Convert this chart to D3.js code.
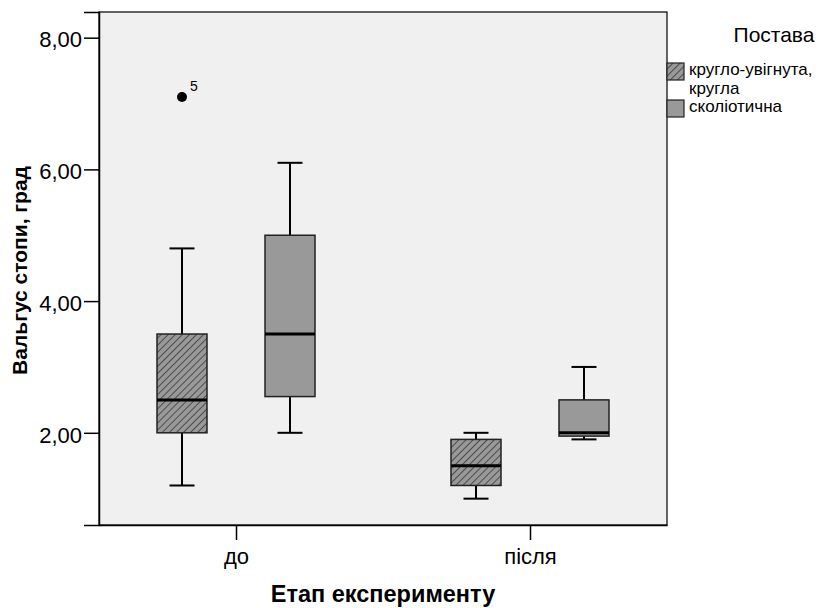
<!DOCTYPE html>
<html>
<head>
<meta charset="utf-8">
<script src="https://cdn.jsdelivr.net/npm/d3@7"></script>
<style>
  html, body { margin: 0; padding: 0; background: #fff; }
  svg { display: block; font-family: "Liberation Sans", Arial, sans-serif; }
</style>
</head>
<body>
<svg id="chart" width="829" height="608"></svg>
<script>
// ---- data ----
const stages = ["до", "після"];
const groups = ["кругло-увігнута, кругла", "сколіотична"];
// [whiskerLow, q1, median, q3, whiskerHigh] per stage
const roundConcave = [[1.2, 2.0, 2.5, 3.5, 4.8], [1.0, 1.2, 1.5, 1.9, 2.0]];
const scoliotic    = [[2.0, 2.55, 3.5, 5.0, 6.1], [1.9, 1.95, 2.0, 2.5, 3.0]];
const outliers = [{ stage: "до", group: 0, value: 7.1, label: "5" }];
const yTicks = [2, 4, 6, 8];
const yDomain = [0.6, 8.39];
const yTitle = "Вальгус стопи, град";
const xTitle = "Етап експерименту";
const legendTitle = "Постава";

// ---- layout ----
const svg = d3.select("#chart");
const L = 99, R = 667, T = 12, B = 525;
const FONT = "Liberation Sans, Arial, sans-serif";

const x = d3.scalePoint().domain(stages).range([L, R]).padding(0.466);
const y = d3.scaleLinear().domain(yDomain).range([B, T]);
const offsets = [-54, 54];
const boxW = 50;

// hatch pattern
const defs = svg.append("defs");
const pat = defs.append("pattern")
  .attr("id", "hatch").attr("patternUnits", "userSpaceOnUse")
  .attr("width", 5).attr("height", 5)
  .attr("patternTransform", "rotate(45)");
pat.append("rect").attr("width", 5).attr("height", 5).attr("fill", "#999999");
pat.append("line").attr("x1", 0).attr("y1", 0).attr("x2", 0).attr("y2", 5)
  .attr("stroke", "#2a2a2a").attr("stroke-width", 1.4);

// plot background
svg.append("rect").attr("x", L).attr("y", T).attr("width", R - L).attr("height", B - T)
  .attr("fill", "#f0f0f0").attr("stroke", "#000").attr("stroke-width", 1.2);

// y axis
const yAxis = d3.axisLeft(y).tickValues(yTicks).tickSize(15)
  .tickFormat(d => d3.format(".2f")(d).replace(".", ","));
const gy = svg.append("g").attr("transform", `translate(${L},0)`).call(yAxis);
gy.attr("font-size", null).attr("font-family", null);
gy.select(".domain").attr("stroke", "#000").attr("stroke-width", 1.5);
gy.selectAll(".tick line").attr("stroke", "#000").attr("stroke-width", 1.5);
gy.selectAll(".tick text").attr("font-size", 22).attr("fill", "#000")
  .attr("font-family", FONT).attr("x", -17).attr("dy", "0.42em");

// x axis
const xAxis = d3.axisBottom(x).tickSize(15).tickSizeOuter(0);
const gx = svg.append("g").attr("transform", `translate(0,${B})`).call(xAxis);
gx.attr("font-size", null).attr("font-family", null);
gx.select(".domain").attr("stroke", "#000").attr("stroke-width", 1.5);
gx.selectAll(".tick line").attr("stroke", "#000").attr("stroke-width", 1.5);
gx.selectAll(".tick text").attr("font-size", 22).attr("fill", "#000")
  .attr("font-family", FONT).attr("y", 23);

// boxes
const series = [roundConcave, scoliotic];
const fills = ["url(#hatch)", "#999999"];
series.forEach((ser, gi) => {
  ser.forEach((s, si) => {
    const cx = x(stages[si]) + offsets[gi];
    const [wl, q1, med, q3, wh] = s;
    const g = svg.append("g");
    g.append("line").attr("x1", cx).attr("x2", cx).attr("y1", y(q3)).attr("y2", y(wh))
      .attr("stroke", "#000").attr("stroke-width", 2);
    g.append("line").attr("x1", cx).attr("x2", cx).attr("y1", y(q1)).attr("y2", y(wl))
      .attr("stroke", "#000").attr("stroke-width", 2);
    [wl, wh].forEach(v => g.append("line")
      .attr("x1", cx - boxW / 4).attr("x2", cx + boxW / 4).attr("y1", y(v)).attr("y2", y(v))
      .attr("stroke", "#000").attr("stroke-width", 2));
    g.append("rect").attr("x", cx - boxW / 2).attr("y", y(q3))
      .attr("width", boxW).attr("height", y(q1) - y(q3))
      .attr("fill", fills[gi]).attr("stroke", "#222").attr("stroke-width", 1.5);
    g.append("line").attr("x1", cx - boxW / 2).attr("x2", cx + boxW / 2)
      .attr("y1", y(med)).attr("y2", y(med)).attr("stroke", "#000").attr("stroke-width", 3);
  });
});

// outliers
outliers.forEach(o => {
  const cx = x(o.stage) + offsets[o.group];
  svg.append("circle").attr("cx", cx).attr("cy", y(o.value)).attr("r", 5).attr("fill", "#000");
  svg.append("text").attr("x", cx + 8).attr("y", y(o.value) - 6)
    .attr("font-size", 14).attr("fill", "#000").text(o.label);
});

// axis titles
svg.append("text").attr("transform", `translate(27,${(T + B) / 2 + 2}) rotate(-90)`)
  .attr("text-anchor", "middle").attr("font-size", 21).attr("font-weight", "bold")
  .attr("fill", "#000").text(yTitle);
svg.append("text").attr("x", (L + R) / 2).attr("y", 602)
  .attr("text-anchor", "middle").attr("font-size", 23.5).attr("font-weight", "bold")
  .attr("fill", "#000").text(xTitle);

// legend
svg.append("text").attr("x", 774).attr("y", 42).attr("text-anchor", "middle")
  .attr("font-size", 21).attr("fill", "#000").text(legendTitle);
const legendRows = [
  { y: 63, lines: ["кругло-увігнута,", "кругла"] },
  { y: 100, lines: ["сколіотична"] }
];
legendRows.forEach((r, i) => {
  svg.append("rect").attr("x", 667).attr("y", r.y).attr("width", 17).attr("height", 17)
    .attr("fill", fills[i]).attr("stroke", "#222").attr("stroke-width", 1.2);
  const t = svg.append("text").attr("x", 689).attr("y", r.y + 12)
    .attr("font-size", 17).attr("fill", "#000");
  r.lines.forEach((line, j) => {
    t.append("tspan").attr("x", 689).attr("dy", j === 0 ? 0 : 19).text(line);
  });
});
</script>
</body>
</html>
